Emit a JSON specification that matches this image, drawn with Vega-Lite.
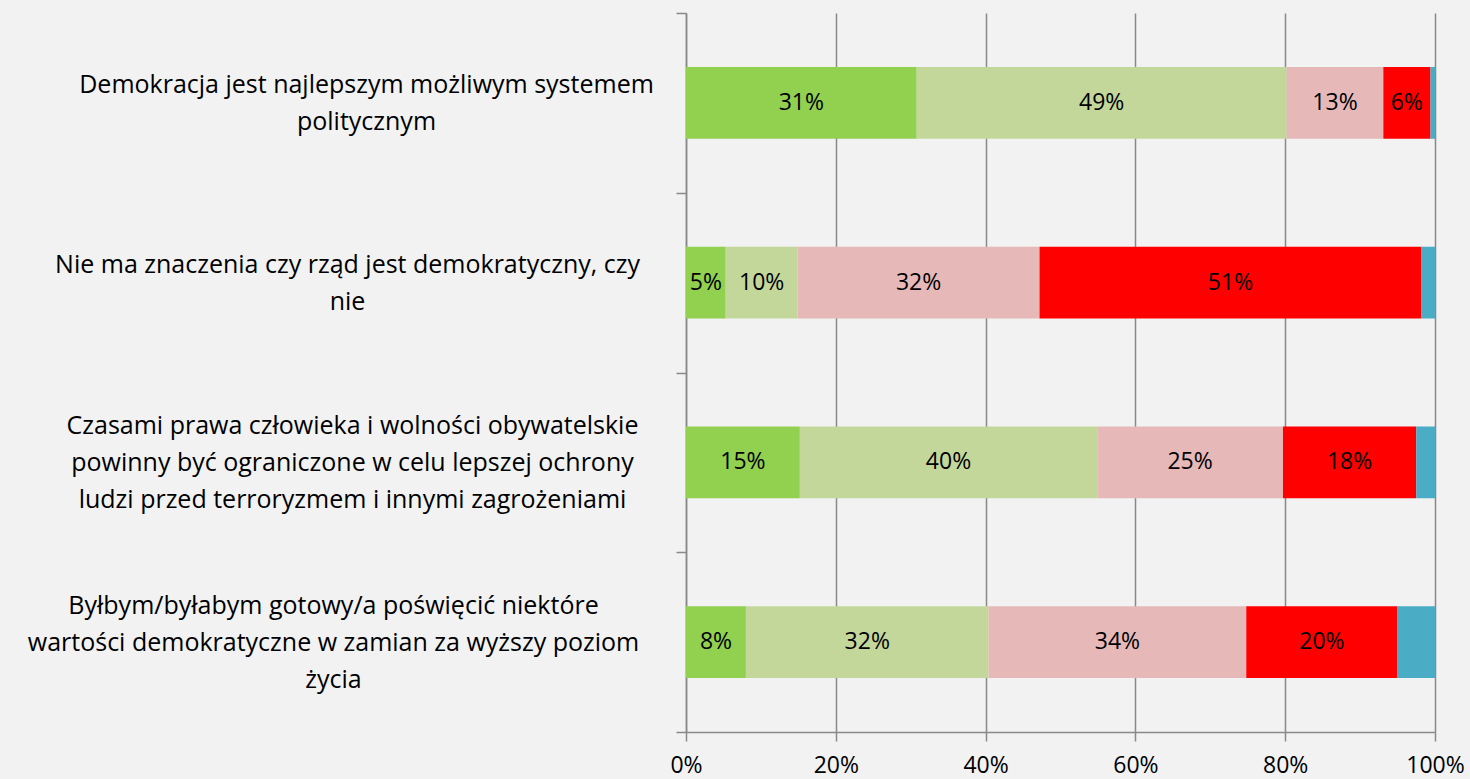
{
  "$schema": "https://vega.github.io/schema/vega-lite/v6.json",
  "width": 749,
  "height": 719,
  "autosize": {"type": "none"},
  "padding": {"left": 686, "top": 13, "right": 35, "bottom": 47},
  "background": "#f2f2f2",
  "config": {"view": {"stroke": null}, "font": "Open Sans"},
  "data": {
    "values": [
      {"q": "Demokracja jest najlepszym możliwym systemem|politycznym", "r": "Zdecydowanie się zgadzam", "k": 1, "value": 0.308},
      {"q": "Demokracja jest najlepszym możliwym systemem|politycznym", "r": "Raczej się zgadzam", "k": 2, "value": 0.494},
      {"q": "Demokracja jest najlepszym możliwym systemem|politycznym", "r": "Raczej się nie zgadzam", "k": 3, "value": 0.129},
      {"q": "Demokracja jest najlepszym możliwym systemem|politycznym", "r": "Zdecydowanie się nie zgadzam", "k": 4, "value": 0.063},
      {"q": "Demokracja jest najlepszym możliwym systemem|politycznym", "r": "Trudno powiedzieć", "k": 5, "value": 0.006},
      {"q": "Nie ma znaczenia czy rząd jest demokratyczny, czy|nie", "r": "Zdecydowanie się zgadzam", "k": 1, "value": 0.053},
      {"q": "Nie ma znaczenia czy rząd jest demokratyczny, czy|nie", "r": "Raczej się zgadzam", "k": 2, "value": 0.096},
      {"q": "Nie ma znaczenia czy rząd jest demokratyczny, czy|nie", "r": "Raczej się nie zgadzam", "k": 3, "value": 0.323},
      {"q": "Nie ma znaczenia czy rząd jest demokratyczny, czy|nie", "r": "Zdecydowanie się nie zgadzam", "k": 4, "value": 0.51},
      {"q": "Nie ma znaczenia czy rząd jest demokratyczny, czy|nie", "r": "Trudno powiedzieć", "k": 5, "value": 0.018},
      {"q": "Czasami prawa człowieka i wolności obywatelskie|powinny być ograniczone w celu lepszej ochrony|ludzi przed terroryzmem i innymi zagrożeniami", "r": "Zdecydowanie się zgadzam", "k": 1, "value": 0.152},
      {"q": "Czasami prawa człowieka i wolności obywatelskie|powinny być ograniczone w celu lepszej ochrony|ludzi przed terroryzmem i innymi zagrożeniami", "r": "Raczej się zgadzam", "k": 2, "value": 0.397},
      {"q": "Czasami prawa człowieka i wolności obywatelskie|powinny być ograniczone w celu lepszej ochrony|ludzi przed terroryzmem i innymi zagrożeniami", "r": "Raczej się nie zgadzam", "k": 3, "value": 0.248},
      {"q": "Czasami prawa człowieka i wolności obywatelskie|powinny być ograniczone w celu lepszej ochrony|ludzi przed terroryzmem i innymi zagrożeniami", "r": "Zdecydowanie się nie zgadzam", "k": 4, "value": 0.178},
      {"q": "Czasami prawa człowieka i wolności obywatelskie|powinny być ograniczone w celu lepszej ochrony|ludzi przed terroryzmem i innymi zagrożeniami", "r": "Trudno powiedzieć", "k": 5, "value": 0.025},
      {"q": "Byłbym/byłabym gotowy/a poświęcić niektóre|wartości demokratyczne w zamian za wyższy poziom|życia", "r": "Zdecydowanie się zgadzam", "k": 1, "value": 0.08},
      {"q": "Byłbym/byłabym gotowy/a poświęcić niektóre|wartości demokratyczne w zamian za wyższy poziom|życia", "r": "Raczej się zgadzam", "k": 2, "value": 0.324},
      {"q": "Byłbym/byłabym gotowy/a poświęcić niektóre|wartości demokratyczne w zamian za wyższy poziom|życia", "r": "Raczej się nie zgadzam", "k": 3, "value": 0.344},
      {"q": "Byłbym/byłabym gotowy/a poświęcić niektóre|wartości demokratyczne w zamian za wyższy poziom|życia", "r": "Zdecydowanie się nie zgadzam", "k": 4, "value": 0.202},
      {"q": "Byłbym/byłabym gotowy/a poświęcić niektóre|wartości demokratyczne w zamian za wyższy poziom|życia", "r": "Trudno powiedzieć", "k": 5, "value": 0.05}
    ]
  },
  "transform": [
    {"stack": "value", "groupby": ["q"], "sort": [{"field": "k", "order": "ascending"}], "as": ["x0", "x1"]},
    {"calculate": "(datum.x0 + datum.x1) / 2", "as": "xm"}
  ],
  "encoding": {
    "y": {
      "field": "q",
      "type": "nominal",
      "sort": null,
      "scale": {"paddingInner": 0, "paddingOuter": 0},
      "axis": {
        "title": null,
        "domainColor": "#898989",
        "domainWidth": 1.5,
        "ticks": true,
        "tickBand": "extent",
        "tickSize": 10,
        "tickColor": "#898989",
        "tickWidth": 1.5,
        "labelAlign": "center",
        "labelBaseline": "middle",
        "labelPadding": {
          "condition": [
            {"test": "datum && isString(datum.value) && indexof(datum.value, 'Demokracja') == 0", "value": 310},
            {"test": "datum && isString(datum.value) && indexof(datum.value, 'Nie ma') == 0", "value": 329},
            {"test": "datum && isString(datum.value) && indexof(datum.value, 'Czasami') == 0", "value": 324}
          ],
          "value": 343
        },
        "labelOffset": {
          "condition": {"test": "datum && isString(datum.value) && (indexof(datum.value, 'Czasami') == 0 || indexof(datum.value, 'Byłbym') == 0)", "value": -37},
          "value": -18.5
        },
        "labelFontSize": 25,
        "labelLimit": 0,
        "labelLineHeight": 37,
        "labelColor": "#000000",
        "labelExpr": "split(datum.label, '|')",
        "grid": false
      }
    }
  },
  "layer": [
    {
      "mark": {"type": "bar", "height": {"band": 0.4}},
      "encoding": {
        "x": {
          "field": "x0",
          "type": "quantitative",
          "scale": {"domain": [0, 1], "nice": false},
          "axis": {
            "title": null,
            "orient": "bottom",
            "values": [0, 0.2, 0.4, 0.6, 0.8, 1],
            "format": ".0%",
            "grid": true,
            "gridColor": "#898989",
            "gridWidth": 1.5,
            "domainColor": "#898989",
            "domainWidth": 1.5,
            "tickColor": "#898989",
            "tickWidth": 1.5,
            "tickSize": 9,
            "labelFontSize": 23,
            "labelColor": "#000000",
            "labelPadding": 13,
            "labelFlush": false
          }
        },
        "x2": {"field": "x1"},
        "color": {
          "field": "r",
          "type": "nominal",
          "scale": {
            "domain": ["Zdecydowanie się zgadzam", "Raczej się zgadzam", "Raczej się nie zgadzam", "Zdecydowanie się nie zgadzam", "Trudno powiedzieć"],
            "range": ["#92d050", "#c4d79b", "#e6b9b8", "#ff0000", "#4bacc6"]
          },
          "legend": null
        }
      }
    },
    {
      "transform": [{"filter": "datum.k < 5"}],
      "mark": {"type": "text", "fontSize": 23, "color": "#000000"},
      "encoding": {
        "x": {"field": "xm", "type": "quantitative"},
        "text": {"field": "value", "type": "quantitative", "format": ".0%"}
      }
    }
  ]
}
